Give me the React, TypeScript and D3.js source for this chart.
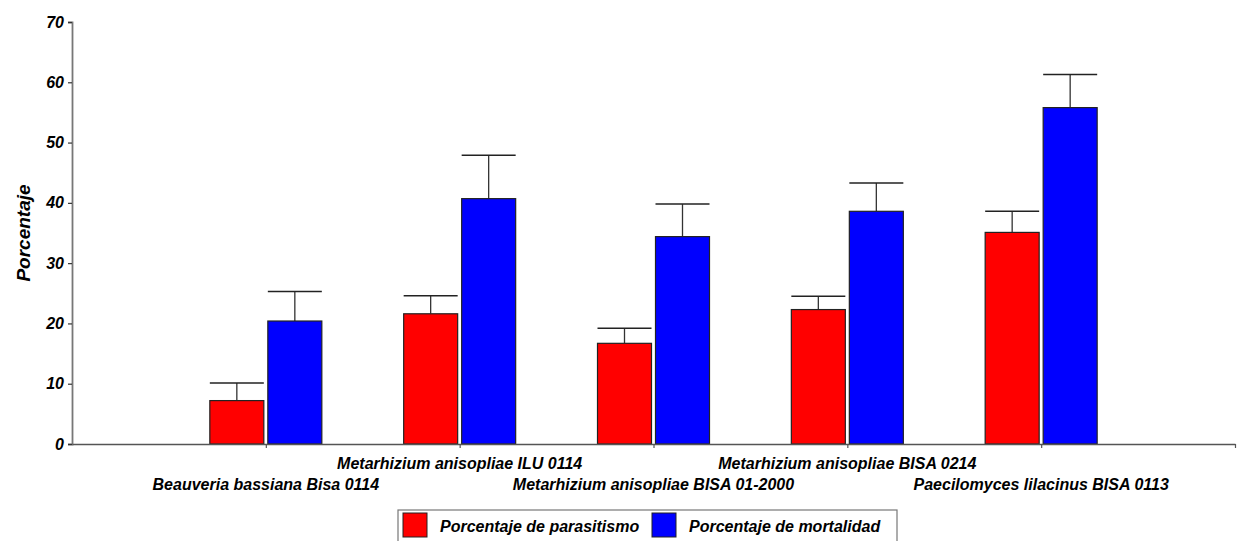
import React, { useEffect, useRef } from 'react';
import * as d3 from 'd3';

const categories = [
  'Beauveria bassiana Bisa 0114',
  'Metarhizium anisopliae ILU 0114',
  'Metarhizium anisopliae BISA 01-2000',
  'Metarhizium anisopliae BISA 0214',
  'Paecilomyces lilacinus BISA 0113',
];
const parasitismo = [7.2, 21.6, 16.7, 22.3, 35.1];
const parasitismoErr = [10.1, 24.6, 19.2, 24.5, 38.6];
const mortalidad = [20.4, 40.7, 34.4, 38.6, 55.8];
const mortalidadErr = [25.3, 47.9, 39.8, 43.3, 61.3];
const yTicks = [0, 10, 20, 30, 40, 50, 60, 70];
const seriesNames = ['Porcentaje de parasitismo', 'Porcentaje de mortalidad'];
const colors = ['#ff0000', '#0000ff'];

const FONT = '"Liberation Sans", Arial, sans-serif';

export default function App() {
  const ref = useRef<SVGSVGElement>(null);

  useEffect(() => {
    const width = 1240;
    const height = 541;
    const margin = { top: 22, left: 72, bottom: 97, right: 5 };

    const svg = d3.select(ref.current);
    svg.selectAll('*').remove();
    svg.attr('width', width).attr('height', height);

    const x = d3.scaleLinear().domain([0, categories.length + 1]).range([margin.left, width - margin.right]);
    const y = d3.scaleLinear().domain([0, 70]).range([height - margin.bottom, margin.top]);

    const barW = 54;
    const gap = 2;

    const series = [
      { vals: parasitismo, errs: parasitismoErr, off: -gap - barW, color: colors[0] },
      { vals: mortalidad, errs: mortalidadErr, off: gap, color: colors[1] },
    ];

    const g = svg.append('g');

    series.forEach((s) => {
      // error bars: stem + cap as wide as the bar
      g.selectAll(null)
        .data(s.vals)
        .enter()
        .append('line')
        .attr('x1', (d, i) => x(i + 1) + s.off + barW / 2)
        .attr('x2', (d, i) => x(i + 1) + s.off + barW / 2)
        .attr('y1', (d) => y(d))
        .attr('y2', (d, i) => y(s.errs[i]))
        .attr('stroke', '#333')
        .attr('stroke-width', 1.3);
      g.selectAll(null)
        .data(s.errs)
        .enter()
        .append('line')
        .attr('x1', (d, i) => x(i + 1) + s.off)
        .attr('x2', (d, i) => x(i + 1) + s.off + barW)
        .attr('y1', (d) => y(d))
        .attr('y2', (d) => y(d))
        .attr('stroke', '#222')
        .attr('stroke-width', 1.5);

      g.selectAll(null)
        .data(s.vals)
        .enter()
        .append('rect')
        .attr('x', (d, i) => x(i + 1) + s.off)
        .attr('y', (d) => y(d))
        .attr('width', barW)
        .attr('height', (d) => y(0) - y(d))
        .attr('fill', s.color)
        .attr('stroke', '#222')
        .attr('stroke-width', 1.2);
    });

    // y axis
    const yAxis = svg
      .append('g')
      .attr('transform', `translate(${margin.left},0)`)
      .call(d3.axisLeft(y).tickValues(yTicks).tickSize(4).tickPadding(4));
    yAxis.select('.domain').attr('stroke', '#777').attr('stroke-width', 1.8);
    yAxis.selectAll('.tick line').attr('stroke', '#333').attr('stroke-width', 1.2);
    yAxis
      .selectAll('.tick text')
      .attr('font-family', FONT)
      .attr('font-size', 16)
      .attr('font-weight', 'bold')
      .attr('font-style', 'italic')
      .attr('fill', '#000');

    // x axis
    const xAxis = svg
      .append('g')
      .attr('transform', `translate(0,${y(0)})`)
      .call(
        d3
          .axisBottom(x)
          .tickValues(d3.range(1, categories.length + 2))
          .tickSize(4)
          .tickSizeOuter(0)
          .tickFormat(() => '')
      );
    xAxis.select('.domain').attr('stroke', '#555').attr('stroke-width', 1.5);
    xAxis.selectAll('.tick line').attr('stroke', '#555').attr('stroke-width', 1.2);

    // category labels, staggered in two rows
    svg
      .append('g')
      .selectAll('text')
      .data(categories)
      .enter()
      .append('text')
      .attr('x', (d, i) => x(i + 1))
      .attr('y', (d, i) => (i % 2 === 0 ? 490 : 469))
      .attr('text-anchor', 'middle')
      .attr('font-family', FONT)
      .attr('font-size', 16)
      .attr('font-weight', 'bold')
      .attr('font-style', 'italic')
      .text((d) => d);

    // y title
    svg
      .append('text')
      .attr('transform', `translate(30,${(y(0) + y(70)) / 2}) rotate(-90)`)
      .attr('text-anchor', 'middle')
      .attr('font-family', FONT)
      .attr('font-size', 19)
      .attr('font-weight', 'bold')
      .attr('font-style', 'italic')
      .text('Porcentaje');

    // legend
    const lg = svg.append('g');
    lg.append('rect')
      .attr('x', 398)
      .attr('y', 510)
      .attr('width', 499)
      .attr('height', 40)
      .attr('fill', '#fff')
      .attr('stroke', '#777')
      .attr('stroke-width', 1.2);
    const legendX = [403, 652];
    seriesNames.forEach((name, i) => {
      lg.append('rect')
        .attr('x', legendX[i])
        .attr('y', 513)
        .attr('width', 24)
        .attr('height', 24)
        .attr('fill', colors[i])
        .attr('stroke', '#222')
        .attr('stroke-width', 1);
      lg.append('text')
        .attr('x', legendX[i] + 37)
        .attr('y', 532)
        .attr('font-family', FONT)
        .attr('font-size', 16)
        .attr('font-weight', 'bold')
        .attr('font-style', 'italic')
        .text(name);
    });
  }, []);

  return (
    <div style={{ position: 'absolute', left: 0, top: 0 }}>
      <svg ref={ref} style={{ display: 'block' }}></svg>
    </div>
  );
}
